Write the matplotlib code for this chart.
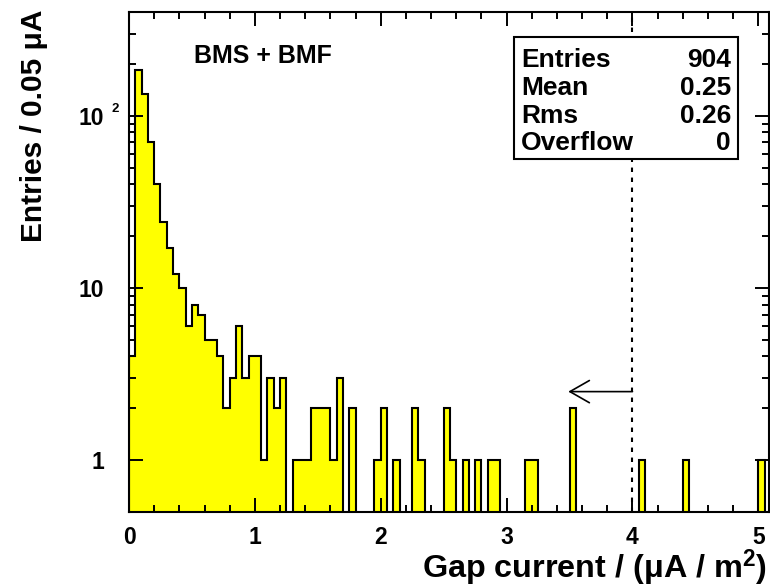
import numpy as np
import matplotlib
matplotlib.use("Agg")
import matplotlib.pyplot as plt
from matplotlib.patches import Rectangle
from matplotlib.ticker import MultipleLocator, FixedLocator, NullFormatter

plt.rcParams['font.family'] = ['Liberation Sans', 'DejaVu Sans']
plt.rcParams['font.weight'] = 'bold'
plt.rcParams['mathtext.fontset'] = 'custom'
plt.rcParams['mathtext.rm'] = 'Liberation Sans:bold'
plt.rcParams['mathtext.bf'] = 'Liberation Sans:bold'
plt.rcParams['mathtext.it'] = 'Liberation Sans:bold'
plt.rcParams['lines.scale_dashes'] = False

# ---------------- data ----------------
bin_width = 0.05
counts = [
    4, 185, 134, 70, 40, 24, 17, 12, 10, 6,   # 0.00 - 0.50
    8, 7, 5, 5, 4, 2, 3, 6, 3, 4,             # 0.50 - 1.00
    4, 1, 3, 2, 3, 0, 1, 1, 1, 2,             # 1.00 - 1.50
    2, 2, 1, 3, 0, 2, 0, 0, 0, 1,             # 1.50 - 2.00
    2, 0, 1, 0, 0, 2, 1, 0, 0, 0,             # 2.00 - 2.50
    2, 1, 0, 1, 0, 1, 0, 1, 1, 0,             # 2.50 - 3.00
    0, 0, 0, 1, 1, 0, 0, 0, 0, 0,             # 3.00 - 3.50
    2, 0, 0, 0, 0, 0, 0, 0, 0, 0,             # 3.50 - 4.00
    0, 1, 0, 0, 0, 0, 0, 0, 1, 0,             # 4.00 - 4.50
    0, 0, 0, 0, 0, 0, 0, 0, 0, 0,             # 4.50 - 5.00
    1, 0,                                     # 5.00 - 5.10
]
x_ticks = [0, 1, 2, 3, 4, 5]
x_tick_labels = ['0', '1', '2', '3', '4', '5']
y_ticks = [1, 10, 100]
y_tick_labels = ['1', '10', '10']
cut_value = 4.0
arrow_start, arrow_end, arrow_level = 4.0, 3.49, 2.5
stats_names = ['Entries', 'Mean', 'Rms', 'Overflow']
stats_values = ['904', '0.25', '0.26', '0']
label_text = 'BMS + BMF'

# ---------------- figure ----------------
W, H = 770, 588
fig = plt.figure(figsize=(W / 100, H / 100), dpi=100)

def fx(px):
    return px / W

def fy(py):
    return 1 - py / H

ax = fig.add_axes([fx(129), fy(512), fx(640), 500 / H])

counts_arr = np.array(counts, dtype=float)
edges = np.arange(len(counts) + 1) * bin_width
ax.stairs(np.clip(counts_arr, 1e-3, None), edges, baseline=1e-3, fill=True,
          facecolor='#ffff00', edgecolor='none', zorder=1)
ax.stairs(np.clip(counts_arr, 1e-3, None), edges, baseline=1e-3, fill=False,
          color='black', linewidth=1.5, zorder=2)

ax.set_yscale('log')
ax.set_xlim(0, 5.085)
ax.set_ylim(0.5, 400)

# cut line + arrow
ax.axvline(cut_value, color='black', lw=1.5, ls=(0, (3.2, 4.0)), zorder=3)
ax.annotate('', xy=(arrow_end, arrow_level), xytext=(arrow_start, arrow_level),
            arrowprops=dict(arrowstyle='->,head_length=14,head_width=8',
                            mutation_scale=1, lw=1.2, color='black',
                            shrinkA=0, shrinkB=0), zorder=4)

# ticks
ax.set_xticks(x_ticks)
ax.set_xticklabels(x_tick_labels)
ax.xaxis.set_minor_locator(MultipleLocator(0.2))
ax.set_yticks(y_ticks)
ax.set_yticklabels(y_tick_labels)
minor_y = [m * d for d in (1, 10, 100) for m in range(2, 10)]
ax.yaxis.set_minor_locator(FixedLocator(minor_y))
ax.yaxis.set_minor_formatter(NullFormatter())
ax.tick_params(which='both', direction='in', top=True, right=True, width=1.4,
               labelsize=16.5)
ax.tick_params(which='major', length=10)
ax.tick_params(which='minor', length=5)
ax.tick_params(axis='y', which='major', pad=18)
ax.tick_params(axis='x', which='major', pad=10)
for lab in ax.get_xticklabels() + ax.get_yticklabels():
    lab.set_fontweight('bold')
for sp in ax.spines.values():
    sp.set_linewidth(1.5)
    sp.set_zorder(5)

# exponent of the 10^2 label
fig.text(fx(111.5), fy(111.7), '2', fontsize=9.5, fontweight='bold',
         ha='left', va='baseline')

# axis titles
fig.text(fx(42), fy(10), 'Entries / 0.05 μA', rotation=90, rotation_mode='anchor',
         ha='right', va='baseline', fontsize=21.5, fontweight='bold')
fig.text(fx(767), fy(578), 'Gap current / (μA / m$^{2}$)', ha='right',
         va='baseline', fontsize=23.3, fontweight='bold')

# in-plot label
fig.text(fx(194), fy(63.3), label_text, ha='left', va='baseline',
         fontsize=18, fontweight='bold')

# stats box
box = Rectangle((fx(514), fy(159)), fx(738) - fx(514), fy(37) - fy(159),
                transform=fig.transFigure, facecolor='white', edgecolor='black',
                linewidth=1.5, zorder=10)
fig.patches.append(box)
baselines = [67.0, 95.0, 122.7, 150.3]
for name, val, b in zip(stats_names, stats_values, baselines):
    fig.text(fx(521), fy(b), name, ha='left', va='baseline', fontsize=19,
             fontweight='bold', zorder=11)
    fig.text(fx(731), fy(b), val, ha='right', va='baseline', fontsize=19,
             fontweight='bold', zorder=11)

fig.savefig('out.png', dpi=100)
